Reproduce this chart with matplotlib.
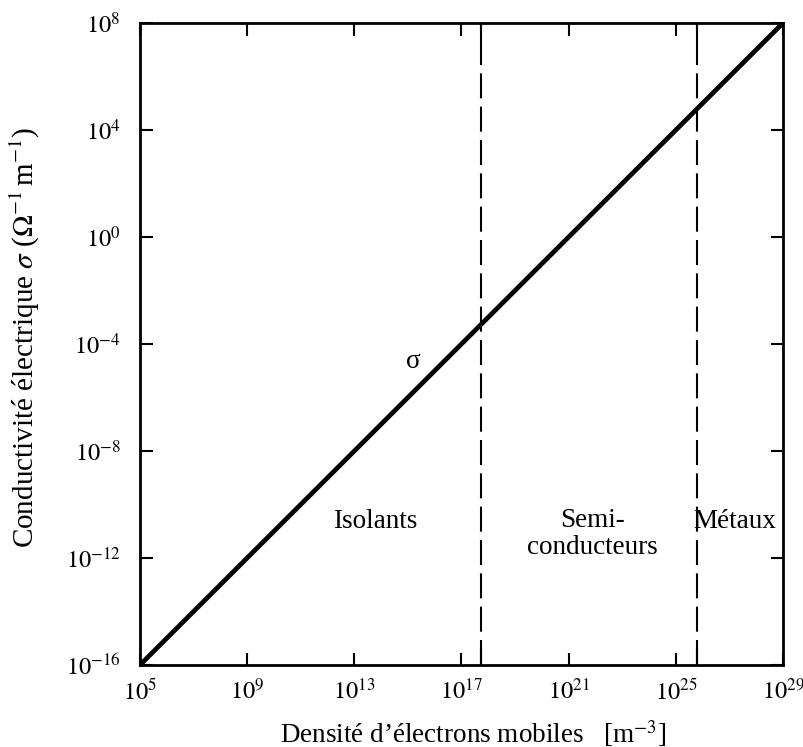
import numpy as np
import matplotlib
matplotlib.use("Agg")
import matplotlib.pyplot as plt
from matplotlib.ticker import FixedLocator, NullLocator, FuncFormatter

plt.rcParams['font.family'] = ['Liberation Serif', 'DejaVu Serif']
plt.rcParams['mathtext.fontset'] = 'stix'

# data
density = [1e5, 1e29]          # m^-3
sigma = [1e-16, 1e8]           # ohm^-1 m^-1
boundaries = [10**17.72, 10**25.78]
x_exps = [5, 9, 13, 17, 21, 25, 29]
y_exps = [-16, -12, -8, -4, 0, 4, 8]
regions = ['Isolants', 'Semi-\nconducteurs', 'M\u00e9taux']
region_x = [10**13.77, 10**21.9, 10**27.2]
region_y = [10**-10.65, 10**-11.1, 10**-10.65]

fig = plt.figure(figsize=(8.04, 7.47), dpi=100)
ax = fig.add_axes([0.1741, 0.1098, 0.7998, 0.8594])

ax.plot(density, sigma, color='black', lw=3.4, solid_capstyle='butt')
for b in boundaries:
    ax.axvline(b, color='black', lw=1.5, dashes=(12, 4))

ax.set_xscale('log')
ax.set_yscale('log')
ax.set_xlim(density)
ax.set_ylim(sigma)

fmt = FuncFormatter(lambda v, p: r'$10^{%d}$' % round(np.log10(v)))
ax.xaxis.set_major_locator(FixedLocator([10.0**e for e in x_exps]))
ax.yaxis.set_major_locator(FixedLocator([10.0**e for e in y_exps]))
ax.xaxis.set_major_formatter(fmt)
ax.yaxis.set_major_formatter(fmt)
ax.xaxis.set_minor_locator(FixedLocator(boundaries))
ax.xaxis.set_minor_formatter(FuncFormatter(lambda v, p: ''))
ax.yaxis.set_minor_locator(NullLocator())

ax.tick_params(which='both', direction='in', top=True, right=True,
               width=1.5, labelsize=17.5, colors='black')
ax.tick_params(which='major', length=9)
ax.tick_params(which='minor', length=12)
ax.tick_params(axis='x', pad=10)
ax.tick_params(axis='y', pad=14)
for s in ax.spines.values():
    s.set_linewidth(2)

ax.set_xlabel("Densit\u00e9 d\u2019\u00e9lectrons mobiles   [m$^{-3}$]", fontsize=19.5)
ax.set_ylabel("Conductivit\u00e9 \u00e9lectrique $\\sigma$ ($\\Omega^{-1}\\,$m$^{-1}$)", fontsize=21)
ax.xaxis.set_label_coords(0.518, -0.082)
ax.yaxis.set_label_coords(-0.152, 0.51)

ax.text(10**15.19, 10**-4.67, '\u03c3', fontsize=19.5, ha='center', va='center')
for name, x, y in zip(regions, region_x, region_y):
    ax.text(x, y, name, fontsize=19.5, ha='center', va='center', linespacing=1.1)

fig.savefig('out.png', dpi=100)
